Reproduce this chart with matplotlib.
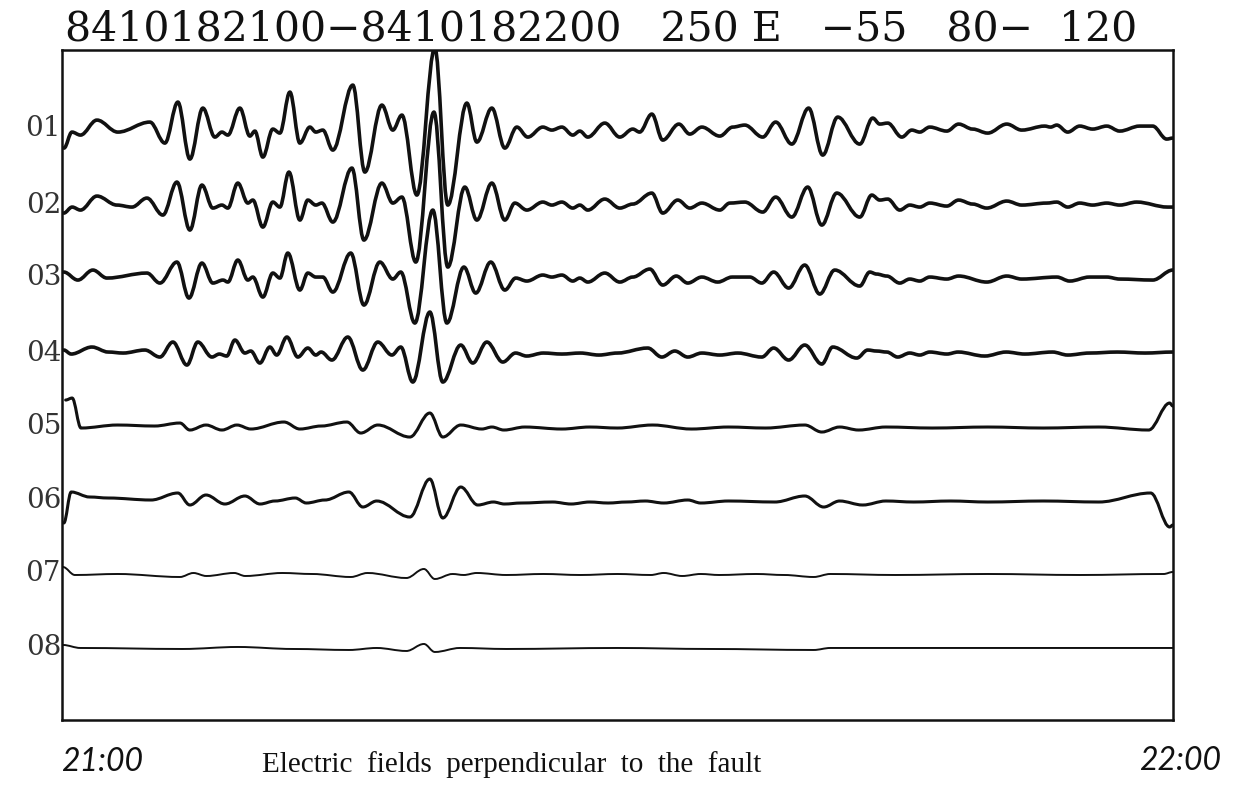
import matplotlib
matplotlib.use("Agg")
import matplotlib.pyplot as plt
from matplotlib.path import Path
from matplotlib.patches import PathPatch

# channel labels and baseline of each trace (pixel-like units above the bottom frame)
labels = ["01", "02", "03", "04", "05", "06", "07", "08"]
baselines = [592, 515, 443, 367, 294, 220, 146, 72]

# extrema: (minutes after 21:00, deflection)
e01 = [(0.11, -20), (0.54, -4), (1.0, -7), (1.89, 8), (3.02, -4), (4.75, 6), (5.56, -15), (6.26, 26),
       (6.91, -31), (7.61, 20), (8.26, -9), (8.64, -4), (8.96, -7), (9.61, 20), (10.15, -8), (10.42, -3),
       (10.85, -29), (11.39, -1), (11.77, -5), (12.31, 36), (12.85, -15), (13.39, 1), (13.71, -4),
       (14.09, -2), (14.63, -22), (15.71, 43), (16.36, -44), (17.28, 23), (17.87, -2), (18.36, 13),
       (19.17, -67), (20.14, 80), (20.84, -77), (21.87, 25), (22.41, -14), (23.22, 20), (23.92, -20),
       (24.57, 1), (25.16, -9), (25.97, 1), (26.46, -2), (27.0, 1), (27.59, -7), (27.97, -3), (28.4, -9),
       (29.32, 5), (30.13, -9), (30.83, -1), (31.2, -4), (31.86, 14), (32.45, -12), (33.32, 4),
       (33.91, -6), (34.56, 1), (35.53, -8), (36.23, 1), (36.88, 3), (37.85, -9), (38.55, 6), (39.42, -16),
       (40.33, 20), (41.09, -27), (41.9, 11), (43.09, -16), (43.79, 10), (44.17, 4), (44.6, 5),
       (45.36, -9), (45.9, -2), (46.33, -4), (46.87, 1), (47.79, -3), (48.43, 4), (49.19, -1), (50.0, -5),
       (51.03, 4), (51.84, -2), (53.08, 2), (53.4, 1), (53.73, 3), (54.32, -4), (54.97, 2), (55.67, -1),
       (56.43, 2), (57.13, -3), (58.21, 2), (58.91, 2), (59.67, -11), (60.0, -10)]
e02 = [(0.1, -8), (0.55, -2), (1.0, -5), (1.89, 9), (2.97, 0), (3.78, -2), (4.59, 7), (5.45, -10),
       (6.21, 23), (6.91, -25), (7.56, 20), (8.15, -3), (8.64, 0), (8.96, -3), (9.5, 22), (10.04, 2),
       (10.31, 5), (10.85, -22), (11.39, 3), (11.77, -2), (12.26, 33), (12.85, -15), (13.28, 5), (13.71, 0),
       (14.04, 2), (14.63, -17), (15.66, 37), (16.31, -35), (17.28, 22), (17.87, 2), (18.36, 8),
       (19.11, -57), (20.09, 93), (20.84, -62), (21.76, 18), (22.41, -15), (23.22, 22), (23.92, -15),
       (24.46, 2), (25.11, -5), (25.97, 3), (26.46, 0), (27.0, 3), (27.59, -3), (27.97, 0), (28.4, -5),
       (29.32, 6), (30.13, -3), (30.83, 1), (31.86, 12), (32.45, -8), (33.26, 5), (33.91, -3), (34.56, 2),
       (35.53, -5), (36.07, 2), (36.88, 3), (37.85, -7), (38.55, 8), (39.42, -12), (40.28, 18),
       (41.04, -20), (41.85, 12), (43.09, -12), (43.74, 10), (44.17, 5), (44.6, 6), (45.25, -5), (45.79, 0),
       (46.33, -2), (46.87, 2), (47.79, -1), (48.43, 5), (49.19, 1), (49.95, -3), (51.03, 4), (51.84, 0),
       (53.19, 2), (53.73, 3), (54.32, -2), (54.97, 2), (55.67, 0), (56.43, 2), (57.13, 0), (58.05, 3),
       (59.72, -2), (60.0, -2)]
e03 = [(0.1, 5), (0.86, -3), (1.67, 7), (2.43, -1), (4.59, 4), (5.29, -6), (6.21, 15), (6.86, -21),
       (7.56, 14), (8.15, -6), (8.7, -3), (8.96, -5), (9.5, 17), (10.04, -3), (10.31, 0), (10.85, -20),
       (11.39, 4), (11.77, -1), (12.2, 24), (12.85, -13), (13.28, 4), (13.71, 0), (14.09, 0), (14.63, -15),
       (15.6, 24), (16.31, -28), (17.17, 15), (17.87, -2), (18.3, 5), (19.06, -46), (20.03, 67),
       (20.79, -46), (21.71, 10), (22.35, -16), (23.16, 15), (23.92, -13), (24.51, -1), (25.11, -4),
       (25.97, 2), (26.46, 0), (27.0, 2), (27.59, -4), (27.97, -1), (28.4, -5), (29.32, 4), (30.13, -5),
       (30.83, 0), (31.75, 8), (32.45, -8), (33.18, 1), (33.8, -6), (34.56, 0), (35.42, -5), (36.2, 0),
       (37.15, 0), (37.8, -6), (38.44, 5), (39.25, -11), (40.12, 12), (40.93, -17), (41.74, 7),
       (43.09, -9), (43.63, 5), (44.0, 3), (44.55, 1), (45.25, -6), (45.79, -2), (46.33, -4), (46.87, 0),
       (47.79, -2), (48.43, 1), (49.95, -5), (51.03, 1), (51.84, -2), (53.73, 0), (54.43, -4), (55.5, 0),
       (56.43, 0), (57.13, -2), (58.91, -3), (60.0, 7)]
e04 = [(0.1, 3), (0.5, -1), (1.62, 6), (2.5, 1), (3.3, 0), (4.48, 3), (5.29, -4), (5.99, 11),
       (6.75, -12), (7.34, 11), (8.1, -4), (8.5, -1), (8.9, -3), (9.34, 13), (9.88, 0), (10.2, 2),
       (10.69, -10), (11.23, 6), (11.6, -2), (12.15, 16), (12.74, -4), (13.28, 5), (13.71, -2), (14.0, 1),
       (14.58, -7), (15.44, 16), (16.25, -17), (17.06, 11), (17.82, -2), (18.3, 6), (18.95, -29),
       (19.87, 41), (20.57, -29), (21.54, 8), (22.19, -10), (22.95, 11), (23.81, -9), (24.5, 0),
       (25.1, -3), (26.0, 0), (27.0, -1), (28.0, 0), (29.0, -2), (30.0, 0), (31.64, 5), (32.4, -4),
       (33.1, 2), (33.8, -4), (34.56, 0), (35.53, -2), (36.5, 0), (37.8, -4), (38.44, 5), (39.25, -7),
       (40.12, 8), (41.04, -11), (41.63, 6), (42.93, -5), (43.52, 3), (44.0, 2), (44.55, 1), (45.14, -4),
       (45.79, 0), (46.33, -2), (46.87, 1), (47.8, -1), (48.4, 1), (49.84, -3), (51.0, 1), (52.0, -1),
       (53.5, 1), (54.32, -2), (55.5, 0), (57.0, 1), (58.5, 0), (60.0, 1)]
e05 = [(0.2, 26), (0.55, 28), (1.03, -2), (3.0, 1), (5.0, 0), (6.37, 3), (6.91, -4), (7.78, 1),
       (8.64, -4), (9.45, 1), (10.2, -3), (11.99, 4), (12.85, -3), (14.0, 0), (15.39, 4), (16.14, -7),
       (17.06, 1), (18.79, -11), (19.87, 13), (20.57, -11), (21.54, 1), (22.68, -3), (23.22, -1),
       (23.87, -4), (25.0, -1), (27.0, -3), (28.5, -1), (30.0, -2), (31.9, 1), (34.0, -3), (36.0, -1),
       (38.0, -2), (40.12, 1), (41.04, -6), (42.0, -1), (43.03, -4), (44.5, -1), (47.0, -2), (50.0, -1),
       (53.0, -2), (56.0, -1), (58.69, -4), (59.83, 23), (60.0, 20)]
e06 = [(0.1, -23), (0.5, 8), (1.5, 3), (2.5, 2), (4.81, 0), (6.26, 7), (6.91, -5), (7.78, 5), (8.8, -4),
       (9.88, 4), (10.7, -4), (11.5, -1), (12.6, 2), (13.2, -3), (14.2, 0), (15.5, 8), (16.25, -7),
       (17.0, -1), (18.79, -17), (19.87, 21), (20.57, -18), (21.54, 13), (22.46, -5), (23.3, -2),
       (23.9, -4), (24.8, -3), (26.5, -2), (27.5, -4), (28.5, -2), (29.5, -3), (30.5, -2), (31.5, -1),
       (32.5, -3), (33.8, 0), (34.5, -3), (36.0, -1), (38.5, -2), (40.12, 4), (41.14, -7), (42.0, -1),
       (43.25, -5), (44.5, -1), (46.0, -2), (48.0, -1), (50.0, -2), (53.0, -1), (56.0, -2), (58.8, 7),
       (59.83, -27), (60.0, -25)]
e07 = [(0.05, 7), (0.7, -1), (3.0, 0), (6.37, -3), (7.1, 1), (7.8, -2), (9.3, 1), (9.9, -2), (11.9, 1),
       (13.5, 0), (15.6, -3), (16.5, 1), (18.6, -4), (19.55, 5), (20.14, -5), (21.1, 0), (21.7, -1),
       (22.4, 1), (24.0, -1), (26.0, 0), (28.0, -1), (30.0, 0), (31.8, -1), (32.5, 1), (33.5, -2),
       (34.5, 0), (35.5, -1), (37.5, 0), (39.0, -1), (40.6, -3), (41.5, 0), (45.0, -1), (50.0, 0),
       (55.0, -1), (59.5, 0), (60.0, 2)]
e08 = [(0.05, 3), (1.0, 0), (6.5, -1), (9.5, 1), (12.5, -1), (15.5, -2), (17.0, 0), (18.6, -3),
       (19.55, 4), (20.14, -4), (21.5, 0), (24.0, -1), (30.0, 0), (35.0, -1), (40.6, -2), (41.5, 0),
       (50.0, 0), (60.0, 0)]
traces = [e01, e02, e03, e04, e05, e06, e07, e08]
widths = [2.6, 2.6, 2.6, 2.6, 2.2, 2.2, 1.4, 1.4]


def wave_path(points, base, k=0.36):
    # smooth curve through the extrema, flat tangent at each one
    verts = [(points[0][0], base + points[0][1])]
    codes = [Path.MOVETO]
    for (t0, a0), (t1, a1) in zip(points[:-1], points[1:]):
        d = t1 - t0
        verts += [(t0 + k * d, base + a0), (t1 - k * d, base + a1), (t1, base + a1)]
        codes += [Path.CURVE4] * 3
    return Path(verts, codes)


fig = plt.figure(figsize=(12.44, 7.89), dpi=100)
ax = fig.add_axes([0.0498, 0.0875, 0.893, 0.849])
ax.set_xlim(0, 60)
ax.set_ylim(0, 670)
ax.set_xticks([])
ax.set_yticks([])
for s in ax.spines.values():
    s.set_linewidth(1.8)
    s.set_color("#111111")

for pts, base, lw, lab in zip(traces, baselines, widths, labels):
    ax.add_patch(PathPatch(wave_path(pts, base), fill=False, lw=lw, ec="#111111",
                           capstyle="round", joinstyle="round"))
    ax.text(-0.05, base, lab, ha="right", va="center", fontsize=20,
            family="DejaVu Serif", color="#333333", clip_on=False)

fig.text(0.483, 0.962, "8410182100\u22128410182200   250 E   \u221255   80\u2212  120",
         ha="center", va="center", fontsize=29.5, family="DejaVu Serif", color="#111111")
fig.text(0.082, 0.034, "21:00", ha="center", va="center", fontsize=23,
         family="Lato", style="italic", color="#111111")
fig.text(0.9486, 0.035, "22:00", ha="center", va="center", fontsize=23,
         family="Lato", style="italic", color="#111111")
fig.text(0.411, 0.031, "Electric  fields  perpendicular  to  the  fault", ha="center", va="center",
         fontsize=21, family="Liberation Serif", color="#111111")

fig.savefig("out.png", dpi=100)
